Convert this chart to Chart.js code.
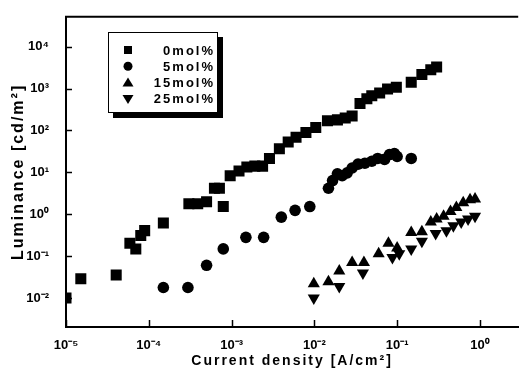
<!DOCTYPE html>
<html>
<head>
<meta charset="utf-8">
<title>Luminance vs current density</title>
<script src="https://cdn.jsdelivr.net/npm/chart.js@4.4.1/dist/chart.umd.min.js"></script>
<style>
  body { margin: 0; background: #fff; }
  #grafico { display: block; }
</style>
</head>
<body>
<canvas id="grafico" width="526" height="378"></canvas>
<script>
// valores (J en A/cm2, L en cd/m2)
const etiquetas = ['0mol%', '5mol%', '15mol%', '25mol%'];

const j0 = [1.0e-5, 1.51e-5, 4.04e-5, 5.91e-5, 6.97e-5, 8.0e-5, 8.92e-5, 1.50e-4, 3.05e-4, 3.90e-4,
  4.99e-4, 6.21e-4, 7.13e-4, 7.94e-4, 9.62e-4, 1.23e-3, 1.53e-3, 1.91e-3, 2.37e-3, 2.87e-3,
  3.78e-3, 4.83e-3, 6.01e-3, 7.91e-3, 1.04e-2, 1.44e-2, 1.90e-2, 2.36e-2, 2.86e-2, 3.56e-2,
  4.31e-2, 4.94e-2, 6.15e-2, 7.66e-2, 9.78e-2, 0.148, 0.199, 0.255, 0.300];
const lum0 = [0.010, 0.0288, 0.0356, 0.204, 0.149, 0.312, 0.407, 0.621, 1.79, 1.79,
  1.99, 4.18, 4.18, 1.53, 8.32, 10.8, 13.4, 14.1, 14.1, 21.5,
  36.6, 53.0, 69.0, 89.9, 117, 170, 179, 199, 221, 440,
  574, 673, 788, 975, 1081, 1410, 2154, 2807, 3289];

const j5 = [1.50e-4, 2.97e-4, 4.99e-4, 7.94e-4, 1.49e-3, 2.44e-3, 3.99e-3, 5.85e-3, 8.81e-3, 1.48e-2,
  1.66e-2, 1.90e-2, 2.17e-2, 2.49e-2, 2.86e-2, 3.37e-2, 4.07e-2, 4.94e-2, 5.82e-2, 7.05e-2,
  8.08e-2, 9.27e-2, 0.100, 0.148];
const lum5 = [0.0179, 0.0179, 0.0605, 0.149, 0.281, 0.281, 0.853, 1.24, 1.53, 4.18,
  6.38, 9.24, 8.32, 9.75, 12.7, 15.7, 16.5, 18.4, 21.5, 20.4,
  26.6, 28.1, 23.9, 21.5];

const j15 = [9.84e-3, 1.48e-2, 2.00e-2, 2.86e-2, 3.97e-2, 5.98e-2, 7.85e-2, 0.100, 0.148, 0.199,
  0.255, 0.300, 0.364, 0.441, 0.519, 0.628, 0.760, 0.873];
const lum15 = [0.0221, 0.0246, 0.0441, 0.0710, 0.0710, 0.114, 0.204, 0.157, 0.366, 0.385,
  0.655, 0.767, 0.899, 1.17, 1.45, 1.89, 2.21, 2.33];

const j25 = [9.84e-3, 2.00e-2, 3.86e-2, 8.77e-2, 0.106, 0.148, 0.199, 0.292, 0.394, 0.478,
  0.594, 0.719, 0.873];
const lum25 = [0.0100, 0.0189, 0.0396, 0.0924, 0.114, 0.149, 0.227, 0.347, 0.407, 0.530,
  0.655, 0.767, 0.899];

const decadasX = [1e-5, 1e-4, 1e-3, 1e-2, 1e-1, 1];
const decadasY = [1e-2, 1e-1, 1, 10, 100, 1e3, 1e4];

const fuente = '"Liberation Sans", Arial, sans-serif';
const sup = { '-': '\u207B', '0': '\u2070', '1': '\u00B9', '2': '\u00B2', '3': '\u00B3', '4': '\u2074', '5': '\u2075' };

function esDecada(v, lista) {
  return lista.some(d => Math.abs(v / d - 1) < 1e-6);
}

function potencia(v) {
  const e = Math.round(Math.log10(v));
  return '10' + String(e).split('').map(c => sup[c]).join('');
}

function puntos(xs, ys) {
  return xs.map((x, i) => ({ x: x, y: ys[i] }));
}

// titulos de ejes con letras espaciadas
const espaciado = {
  id: 'espaciado',
  beforeDraw(chart) {
    Object.values(chart.scales).forEach(s => {
      if (s._envuelto) return;
      const original = s.drawTitle;
      s.drawTitle = function () {
        this.ctx.save();
        this.ctx.letterSpacing = '2px';
        original.apply(this, arguments);
        this.ctx.restore();
      };
      s._envuelto = true;
    });
  }
};

// marco superior y marcas hacia adentro
const marcas = {
  id: 'marcas',
  afterDraw(chart) {
    const ctx = chart.ctx;
    const area = chart.chartArea;
    const sx = chart.scales.x;
    const sy = chart.scales.y;
    ctx.save();
    ctx.strokeStyle = '#000';
    ctx.lineWidth = 2;
    ctx.beginPath();
    ctx.moveTo(area.left - 1, area.top);
    ctx.lineTo(area.right, area.top);
    ctx.stroke();
    ctx.lineWidth = 1.5;
    decadasX.forEach(d => {
      const px = Math.round(sx.getPixelForValue(d)) + 0.5;
      ctx.beginPath();
      ctx.moveTo(px, area.bottom);
      ctx.lineTo(px, area.bottom - 7);
      ctx.stroke();
    });
    decadasY.forEach(d => {
      const py = Math.round(sy.getPixelForValue(d)) + 0.5;
      ctx.beginPath();
      ctx.moveTo(area.left, py);
      ctx.lineTo(area.left + 6, py);
      ctx.stroke();
    });
    ctx.restore();
  }
};

function dibujarMarca(ctx, estilo, x, y) {
  ctx.beginPath();
  if (estilo === 'rect') {
    ctx.rect(x - 4, y - 4, 8, 8);
  } else if (estilo === 'circle') {
    ctx.arc(x, y, 4.5, 0, Math.PI * 2);
  } else if (estilo === 'up') {
    ctx.moveTo(x, y - 5);
    ctx.lineTo(x + 5.5, y + 4);
    ctx.lineTo(x - 5.5, y + 4);
  } else {
    ctx.moveTo(x, y + 5);
    ctx.lineTo(x + 5.5, y - 4);
    ctx.lineTo(x - 5.5, y - 4);
  }
  ctx.closePath();
  ctx.fill();
}

// leyenda con sombra dentro del area
const leyenda = {
  id: 'leyenda',
  afterDraw(chart) {
    const ctx = chart.ctx;
    const estilos = ['rect', 'circle', 'up', 'down'];
    ctx.save();
    ctx.fillStyle = '#000';
    ctx.fillRect(113, 37, 110, 81);
    ctx.fillStyle = '#fff';
    ctx.fillRect(108, 32, 110, 81);
    ctx.strokeStyle = '#000';
    ctx.lineWidth = 1;
    ctx.strokeRect(108.5, 32.5, 109, 80);
    ctx.font = 'bold 13px ' + fuente;
    ctx.letterSpacing = '2px';
    ctx.textAlign = 'right';
    ctx.textBaseline = 'middle';
    chart.data.datasets.forEach((ds, i) => {
      const y = 50 + i * 16.3;
      ctx.fillStyle = '#000';
      dibujarMarca(ctx, estilos[i], 128, y);
      ctx.fillText(ds.label, 215, y + 1);
    });
    ctx.restore();
  }
};

new Chart(document.getElementById('grafico'), {
  type: 'scatter',
  data: {
    datasets: [
      { label: etiquetas[0], data: puntos(j0, lum0), pointStyle: 'rect', pointRadius: 7.8 },
      { label: etiquetas[1], data: puntos(j5, lum5), pointStyle: 'circle', pointRadius: 5.8 },
      { label: etiquetas[2], data: puntos(j15, lum15), pointStyle: 'triangle', pointRadius: 7 },
      { label: etiquetas[3], data: puntos(j25, lum25), pointStyle: 'triangle', pointRadius: 7, rotation: 180 }
    ]
  },
  options: {
    responsive: false,
    animation: false,
    layout: { padding: { top: 5, right: 0, left: 0, bottom: 0 } },
    elements: {
      point: { backgroundColor: '#000', borderWidth: 0, hoverRadius: 7 }
    },
    plugins: {
      legend: { display: false },
      tooltip: { enabled: false }
    },
    scales: {
      x: {
        type: 'logarithmic',
        min: 1e-5,
        max: 2.9,
        afterFit: s => { s.height = 51; },
        grid: { display: false },
        border: { display: true, color: '#000', width: 2 },
        ticks: {
          autoSkip: false,
          maxRotation: 0,
          padding: 3,
          color: '#000',
          font: { family: fuente, size: 13, weight: 'bold' },
          callback: v => esDecada(v, decadasX) ? potencia(v) : ''
        },
        title: {
          display: true,
          text: 'Current density [A/cm\u00B2]',
          color: '#000',
          padding: { top: 0, bottom: 8 },
          font: { family: fuente, size: 14, weight: 'bold' }
        }
      },
      y: {
        type: 'logarithmic',
        min: 0.00204,
        max: 51600,
        afterFit: s => { s.width = 66; },
        grid: { display: false },
        border: { display: true, color: '#000', width: 2 },
        ticks: {
          autoSkip: false,
          padding: 9,
          color: '#000',
          font: { family: fuente, size: 13, weight: 'bold' },
          callback: v => esDecada(v, decadasY) ? potencia(v) : ''
        },
        title: {
          display: true,
          text: 'Luminance [cd/m\u00B2]',
          color: '#000',
          padding: { top: 9, bottom: 0 },
          font: { family: fuente, size: 16, weight: 'bold' }
        }
      }
    }
  },
  plugins: [espaciado, marcas, leyenda]
});
</script>
</body>
</html>
